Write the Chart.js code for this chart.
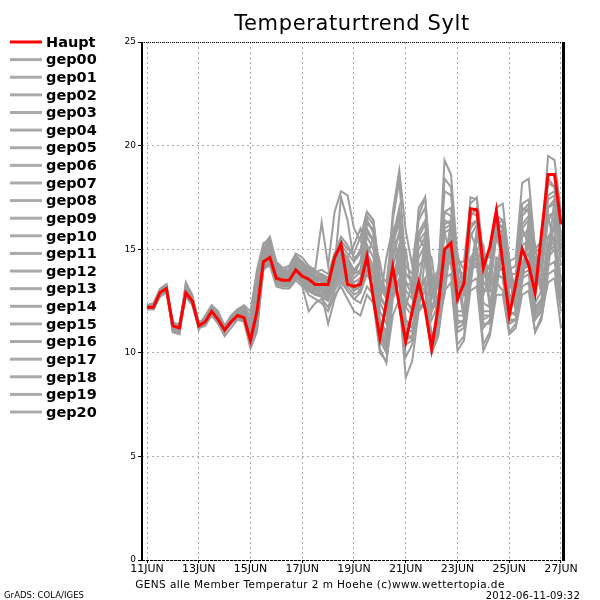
<!DOCTYPE html>
<html>
<head>
<meta charset="utf-8">
<script src="https://cdn.jsdelivr.net/npm/chart.js@4.4.1/dist/chart.umd.min.js"></script>
<style>
  html, body { margin: 0; padding: 0; background: #fff; }
</style>
</head>
<body>
<canvas id="chart" width="600" height="600"></canvas>
<script>
// x axis: 6-hourly steps from 11JUN 00z (index 0) to 27JUN 00z (index 64)
const tickIdx = [0, 8, 16, 24, 32, 40, 48, 56, 64];
const dayLabels = ["11JUN", "13JUN", "15JUN", "17JUN", "19JUN", "21JUN", "23JUN", "25JUN", "27JUN"];
const yTicks = [0, 5, 10, 15, 20, 25];

// control run
const haupt = [12.2,12.2,12.9,13.1,11.3,11.2,12.9,12.5,11.3,11.5,12.0,11.6,11.1,11.5,11.8,11.7,10.6,
  12.0,14.4,14.6,13.6,13.5,13.5,14.0,13.7,13.55,13.3,13.3,13.3,14.6,15.25,
  13.3,13.2,13.3,14.65,12.6,10.7,12.4,14.15,12.3,10.55,12.0,13.4,12.1,10.2,12.2,15.0,15.3,12.6,13.35,16.95,16.9,14.1,15.1,16.85,14.3,11.8,13.3,15.0,14.25,12.9,15.8,18.6,18.6,16.2];

// ensemble members
const gep00 = [12.3,12.3,13.0,13.2,11.1,11.0,13.1,12.6,11.2,11.6,12.1,11.7,11.0,11.6,12.0,11.9,10.8,
  12.5,14.6,14.9,13.8,13.6,13.7,14.2,13.9,13.6,13.4,13.5,13.2,14.0,14.8,
  14.2,13.6,13.9,15.6,15.0,12.4,11.8,14.5,15.8,12.6,12.0,14.2,14.6,11.6,12.3,15.8,16.0,13.0,12.8,15.6,16.2,13.4,13.2,15.8,15.2,12.8,12.6,15.2,15.4,13.2,13.8,16.4,16.8,14.2];
const gep01 = [12.1,12.2,12.8,13.0,11.4,11.3,12.8,12.4,11.4,11.4,11.9,11.5,11.2,11.4,11.7,11.6,10.4,
  11.5,14.2,14.4,13.5,13.4,13.3,13.9,13.6,13.2,13.0,13.1,12.8,13.6,14.2,
  13.6,13.1,13.4,14.8,14.2,11.6,11.0,13.6,14.6,11.4,11.2,13.2,13.5,10.8,11.6,14.6,14.8,12.0,12.0,14.6,15.0,12.4,12.2,14.4,14.0,12.0,11.8,14.0,14.2,12.2,12.6,15.0,15.4,13.0];
const gep02 = [12.2,12.3,12.9,13.2,11.0,10.9,13.3,12.7,11.1,11.7,12.2,11.8,10.9,11.6,11.9,12.0,10.9,
  12.8,14.8,15.2,14.0,13.8,13.9,14.6,14.2,13.9,13.6,13.8,13.6,14.4,15.2,
  14.8,14.4,15.0,16.4,15.8,13.2,12.6,15.6,17.0,13.8,13.4,15.6,16.2,12.8,13.6,19.3,18.6,14.6,14.0,16.6,17.0,14.4,14.0,16.4,16.0,13.6,13.4,16.2,16.6,14.0,14.6,18.2,18.0,15.6];
const gep03 = [12.3,12.4,13.1,13.3,11.2,11.2,13.0,12.6,11.3,11.8,12.3,12.0,11.3,11.8,12.1,12.2,11.4,
  13.5,14.9,15.3,14.1,13.9,14.0,14.5,14.3,14.0,13.8,13.7,13.5,14.2,14.6,
  14.4,14.0,13.8,14.6,15.6,14.4,12.6,13.2,15.2,15.0,12.8,13.4,15.0,14.6,12.2,13.6,15.8,14.8,12.8,14.0,15.8,15.2,13.2,14.0,15.4,14.4,12.8,13.8,15.4,14.6,13.4,15.0,16.2,15.4];
const gep04 = [12.1,12.1,12.7,12.9,11.5,11.3,12.7,12.3,11.2,11.3,11.8,11.4,10.8,11.2,11.6,11.5,10.3,
  11.2,14.0,14.3,13.3,13.2,13.2,13.6,13.4,13.0,12.8,12.7,12.5,13.2,13.8,
  13.2,12.8,13.0,14.0,13.6,10.8,10.2,13.2,14.0,10.6,10.8,12.6,13.0,10.2,11.0,14.0,14.4,11.2,11.4,14.0,14.4,11.2,11.6,13.8,13.6,11.4,11.6,13.6,13.8,11.6,12.0,14.2,14.4,12.4];
const gep05 = [12.2,12.3,12.8,13.0,11.3,11.4,12.9,12.6,11.5,11.6,12.1,11.9,11.3,11.7,12.0,12.1,11.6,
  13.4,15.0,15.5,14.3,14.0,13.9,14.7,14.4,14.1,13.9,14.0,13.8,14.8,15.6,
  15.2,14.6,14.8,16.6,16.2,13.4,12.8,16.4,18.3,14.2,13.8,16.4,17.0,13.2,13.8,17.8,17.6,14.4,14.4,17.2,17.5,14.6,14.6,16.6,16.4,14.0,14.2,17.2,17.4,14.8,15.2,19.5,19.3,16.8];
const gep06 = [12.3,12.2,13.0,13.1,11.2,11.1,13.4,12.8,11.4,11.5,12.0,11.6,11.0,11.5,11.9,11.8,10.7,
  12.2,14.5,14.7,13.7,13.5,13.5,14.0,13.7,13.3,13.2,13.2,13.0,13.8,14.4,
  13.8,13.3,13.2,14.4,14.0,11.2,10.6,13.0,14.2,11.0,10.6,12.8,13.2,10.6,11.2,14.4,14.8,11.6,11.4,14.2,14.6,11.8,11.8,14.2,14.0,11.6,11.6,14.0,14.4,12.0,12.6,15.2,15.6,12.8];
const gep07 = [12.1,12.2,12.9,13.1,11.0,10.9,12.8,12.4,11.2,11.5,12.0,11.7,11.1,11.6,11.9,11.9,10.9,
  12.0,14.3,14.8,13.9,13.7,13.6,14.3,14.0,13.8,13.6,13.4,13.2,14.2,15.0,
  14.6,14.0,14.4,16.2,16.0,13.0,12.8,16.8,18.8,15.9,14.2,16.6,17.5,13.6,13.6,16.8,16.6,13.6,13.2,16.0,16.4,13.4,13.0,15.6,15.4,12.6,12.8,15.6,16.0,13.4,14.2,17.4,17.6,15.4];
const gep08 = [12.2,12.2,12.8,13.0,11.3,11.2,13.0,12.5,11.3,11.4,11.9,11.5,11.0,11.4,11.7,11.5,10.2,
  11.0,14.1,14.2,13.2,13.1,13.1,13.5,13.2,12.0,12.4,12.6,12.2,13.0,13.6,
  13.0,12.6,12.9,13.8,13.2,10.2,9.5,12.6,13.4,9.8,10.4,12.2,12.4,10.0,10.8,13.6,13.8,10.4,10.8,13.4,13.6,10.4,11.0,13.4,13.0,11.0,11.4,13.2,13.4,11.0,11.6,13.8,14.0,12.0];
const gep09 = [12.3,12.3,13.0,13.2,11.4,11.3,13.1,12.6,11.4,11.6,12.1,11.8,11.2,11.6,12.0,12.2,11.8,
  13.8,15.2,15.6,14.4,14.1,14.2,14.8,14.6,14.2,14.0,16.3,14.2,16.8,17.8,
  17.6,16.0,15.4,16.8,16.4,13.8,13.4,15.8,16.6,13.8,13.6,15.4,15.8,13.4,14.0,16.2,16.4,14.0,13.8,16.0,16.4,14.2,14.2,16.2,16.0,13.8,13.8,16.0,16.4,14.4,14.8,17.0,17.2,15.8];
const gep10 = [12.2,12.1,12.9,13.1,11.2,11.2,13.2,12.7,11.3,11.5,12.1,11.7,11.1,11.5,11.8,11.8,10.6,
  12.4,14.6,14.6,13.6,13.4,13.4,13.8,13.5,13.1,12.9,12.8,11.4,12.6,13.4,
  13.0,12.6,12.4,13.2,12.8,10.6,10.0,12.8,13.6,10.4,10.6,12.6,13.0,10.8,11.4,14.2,14.4,11.4,11.6,14.0,14.2,11.6,11.8,13.8,13.6,11.4,11.6,13.8,14.0,11.8,12.4,14.6,15.0,12.6];
const gep11 = [12.1,12.2,12.7,13.0,11.1,11.0,12.9,12.4,11.2,11.4,11.9,11.6,11.0,11.5,11.8,11.7,10.5,
  11.8,14.4,14.5,13.4,13.3,13.2,13.7,13.3,12.8,12.6,12.4,12.0,12.8,13.2,
  12.6,12.0,11.8,12.8,12.4,10.0,9.6,11.8,12.6,8.8,9.6,12.0,12.4,10.0,10.8,13.0,13.4,10.1,10.6,13.0,13.2,10.1,10.8,12.8,12.8,10.9,11.2,12.8,13.0,11.0,11.8,13.4,13.6,11.2];
const gep12 = [12.3,12.3,13.0,13.3,11.3,11.3,13.1,12.7,11.4,11.7,12.2,11.9,11.3,11.7,12.1,12.3,12.0,
  14.0,15.3,15.4,14.2,14.0,14.1,14.6,14.4,14.0,13.9,13.8,13.6,14.6,15.4,
  15.0,14.8,15.6,16.8,16.4,13.6,13.0,15.4,16.2,13.4,13.2,15.8,16.4,12.8,13.4,16.8,17.0,13.6,13.6,16.6,17.0,14.0,13.8,17.0,17.2,14.4,14.6,18.2,18.4,15.0,15.4,18.4,18.0,16.2];
const gep13 = [12.2,12.2,12.9,13.1,11.0,11.1,13.0,12.5,11.2,11.5,12.0,11.6,11.1,11.5,11.8,11.7,10.8,
  12.6,14.7,15.0,13.9,13.6,13.8,14.4,14.1,13.7,13.5,13.6,13.4,14.4,15.0,
  14.4,13.8,14.0,15.8,15.4,12.6,12.2,15.2,16.4,13.4,12.8,17.0,17.5,13.4,13.2,16.4,16.2,13.2,13.0,17.5,17.4,14.2,13.6,15.8,15.6,13.2,13.0,16.6,17.0,13.8,14.4,16.6,16.8,14.8];
const gep14 = [12.2,12.3,12.8,13.0,11.3,11.2,12.8,12.4,11.3,11.4,12.0,11.5,11.0,11.4,11.7,11.6,10.4,
  11.4,14.2,14.3,13.4,13.3,13.4,13.8,13.6,13.3,13.1,13.0,12.8,13.4,14.0,
  13.4,13.0,13.2,14.4,13.8,11.4,10.8,13.6,14.4,11.2,11.0,13.0,13.4,10.6,11.2,14.8,15.0,11.8,11.8,14.4,14.8,12.0,12.0,14.6,14.4,11.8,12.0,14.4,14.8,12.4,13.0,15.6,16.0,13.4];
const gep15 = [12.1,12.1,12.9,13.2,11.4,11.4,13.1,12.6,11.4,11.6,12.1,11.8,11.2,11.6,11.9,12.0,11.2,
  13.2,15.0,15.4,14.2,13.9,13.8,14.6,14.3,13.9,13.7,13.6,13.4,14.0,14.8,
  14.6,15.2,16.0,15.2,12.6,12.4,14.6,16.0,14.0,12.2,13.4,15.6,15.0,12.0,13.6,15.8,14.6,12.4,13.6,15.8,15.0,12.8,13.8,15.6,14.6,12.4,13.6,16.0,15.2,12.8,14.4,16.6,15.2,13.6];
const gep16 = [12.3,12.2,13.0,13.1,11.2,11.1,13.0,12.6,11.2,11.5,12.0,11.7,11.0,11.5,11.9,11.8,10.6,
  12.3,14.5,14.8,13.8,13.6,13.5,14.1,13.8,13.4,13.2,13.1,12.9,13.6,14.6,
  14.0,13.4,13.6,15.2,14.6,12.0,11.4,14.2,15.2,12.2,11.8,13.0,15.6,13.8,11.8,14.2,16.4,14.0,12.0,13.6,16.0,15.0,12.4,13.4,16.2,14.6,12.2,13.6,16.4,15.2,13.0,14.8,17.4,15.0];
const gep17 = [12.2,12.3,12.9,13.0,11.1,11.0,12.9,12.5,11.3,11.5,12.1,11.6,11.1,11.6,11.8,11.9,11.0,
  12.9,14.7,15.1,14.0,13.8,13.6,14.2,14.0,13.6,13.4,13.3,13.1,13.9,14.6,
  14.2,13.8,14.4,16.0,15.4,12.4,11.8,14.8,15.8,12.4,12.2,14.6,15.2,12.0,12.6,16.0,16.2,12.8,12.8,16.2,16.4,13.0,13.0,16.2,16.4,13.2,13.2,16.8,17.2,13.8,14.2,17.6,17.8,15.0];
const gep18 = [12.1,12.2,12.8,13.1,11.3,11.3,13.2,12.7,11.4,11.6,12.0,11.7,11.2,11.5,11.9,11.8,10.7,
  12.1,14.4,14.6,13.6,13.4,13.3,13.9,13.5,13.2,13.0,12.9,12.7,13.5,14.2,
  13.8,13.2,13.0,14.0,13.6,11.0,10.4,13.4,14.6,11.6,11.2,12.0,14.6,13.2,11.6,12.8,15.4,13.6,11.6,13.2,15.6,14.4,12.2,13.0,15.2,13.8,12.0,13.4,15.6,14.2,12.8,14.0,16.6,14.6];
const gep19 = [12.2,12.2,13.0,13.2,11.2,11.2,12.9,12.5,11.3,11.5,12.0,11.6,11.1,11.5,11.8,11.7,10.5,
  11.6,14.3,14.5,13.5,13.3,13.3,13.8,13.4,13.0,12.8,12.8,12.6,13.4,14.0,
  13.4,13.0,13.6,14.6,14.0,11.0,10.2,13.2,14.2,10.8,10.8,13.2,13.6,10.4,11.2,14.4,14.6,11.0,11.2,14.2,14.6,11.4,11.4,14.0,14.0,11.6,11.6,14.2,14.4,11.6,12.2,14.8,15.2,12.6];
const gep20 = [12.3,12.3,12.9,13.1,11.3,11.2,13.0,12.6,11.3,11.6,12.1,11.8,11.2,11.6,12.0,12.1,11.3,
  13.0,14.9,15.2,14.1,13.8,13.7,14.4,14.1,13.8,13.6,13.5,13.3,14.2,17.5,
  16.4,14.4,14.8,16.4,15.8,12.8,12.2,15.4,16.8,13.0,12.6,15.0,15.6,12.6,13.2,18.4,18.0,14.0,13.6,16.8,16.6,13.8,13.4,16.0,15.8,13.4,13.4,17.0,16.8,13.6,14.2,17.0,17.4,15.2];

const members = [gep00, gep01, gep02, gep03, gep04, gep05, gep06, gep07, gep08, gep09, gep10,
  gep11, gep12, gep13, gep14, gep15, gep16, gep17, gep18, gep19, gep20];

const FONT = '"DejaVu Sans", sans-serif';
const GRAY = "#9d9d9d";

function toXY(arr) {
  return arr.map((v, i) => ({ x: i, y: v }));
}

const datasets = [{
  label: "Haupt",
  data: toXY(haupt),
  borderColor: "#ff0000",
  borderWidth: 3,
}];
members.forEach((m, i) => {
  datasets.push({
    label: "gep" + String(i).padStart(2, "0"),
    data: toXY(m),
    borderColor: GRAY,
    borderWidth: 2,
  });
});

function spacedText(ctx, text, x, y, width, align) {
  const w = ctx.measureText(text).width;
  const extra = (width - w) / (text.length - 1);
  ctx.letterSpacing = extra.toFixed(2) + "px";
  const w2 = ctx.measureText(text).width;
  let x0 = x;
  if (align === "center") x0 = x - w2 / 2;
  if (align === "right") x0 = x - w2;
  ctx.textAlign = "left";
  ctx.fillText(text, x0, y);
  ctx.letterSpacing = "0px";
}

// frame, title, captions and the left-hand legend
const decorations = {
  id: "decorations",
  afterDatasetsDraw(chart) {
    const { ctx, chartArea: a } = chart;
    ctx.save();
    ctx.fillStyle = "#000";
    ctx.fillRect(a.left - 1, a.top, 2, a.bottom - a.top + 1);
    ctx.fillRect(a.right - 1, a.top, 3, a.bottom - a.top + 1);
    ctx.strokeStyle = "#000";
    ctx.lineWidth = 1;
    ctx.setLineDash([1, 1]);
    ctx.beginPath();
    ctx.moveTo(a.left, a.top + 0.5);
    ctx.lineTo(a.right, a.top + 0.5);
    ctx.stroke();
    ctx.setLineDash([3, 1]);
    ctx.beginPath();
    ctx.moveTo(a.left, a.bottom + 0.5);
    ctx.lineTo(a.right, a.bottom + 0.5);
    ctx.stroke();
    ctx.restore();
  },
  afterDraw(chart) {
    const ctx = chart.ctx;
    ctx.save();
    ctx.fillStyle = "#000";
    ctx.textBaseline = "alphabetic";

    ctx.font = "21px " + FONT;
    spacedText(ctx, "Temperaturtrend Sylt", 352, 30, 235, "center");

    ctx.font = "10.5px " + FONT;
    spacedText(ctx, "GENS alle Member Temperatur 2 m Hoehe (c)www.wettertopia.de", 320, 588, 369, "center");
    ctx.font = "10px " + FONT;
    spacedText(ctx, "2012-06-11-09:32", 580, 599, 94, "right");
    ctx.font = "8.5px " + FONT;
    spacedText(ctx, "GrADS: COLA/IGES", 4, 598, 80, "left");

    ctx.font = "bold 14.5px " + FONT;
    ctx.textBaseline = "middle";
    chart.data.datasets.forEach((ds, i) => {
      const y = 42 + i * 17.62;
      ctx.strokeStyle = i === 0 ? "#ff0000" : "#aaaaaa";
      ctx.lineWidth = 3;
      ctx.beginPath();
      ctx.moveTo(10, y);
      ctx.lineTo(42, y);
      ctx.stroke();
      ctx.textAlign = "left";
      ctx.fillText(ds.label, 46, y + 1);
    });
    ctx.restore();
  }
};

new Chart(document.getElementById("chart"), {
  type: "line",
  data: { datasets },
  options: {
    responsive: false,
    animation: false,
    events: [],
    layout: { padding: { top: 42, right: 37, left: 0, bottom: 0 } },
    elements: {
      point: { radius: 0 },
      line: { tension: 0, fill: false },
    },
    plugins: {
      legend: { display: false },
      title: { display: false },
      tooltip: { enabled: false },
    },
    scales: {
      x: {
        type: "linear",
        min: -0.773,
        max: 64.31,
        afterFit: (s) => { s.height = 40; },
        afterBuildTicks: (s) => { s.ticks = tickIdx.map((v) => ({ value: v })); },
        grid: { color: "#aaaaaa", lineWidth: 1, tickLength: 3, tickColor: "#000" },
        border: { display: false, dash: [2, 3] },
        ticks: {
          color: "#000",
          padding: 0,
          maxRotation: 0,
          autoSkip: false,
          font: { family: FONT, size: 11 },
          callback: (v) => dayLabels[tickIdx.indexOf(v)],
        },
      },
      y: {
        min: 0,
        max: 25,
        afterFit: (s) => { s.width = 142; },
        afterBuildTicks: (s) => { s.ticks = yTicks.map((v) => ({ value: v })); },
        grid: { color: "#aaaaaa", lineWidth: 1, tickLength: 4, tickColor: "#000" },
        border: { display: false, dash: [2, 3] },
        ticks: {
          color: "#000",
          padding: 2,
          font: { family: FONT, size: 9 },
        },
      },
    },
  },
  plugins: [decorations],
});
</script>
</body>
</html>
